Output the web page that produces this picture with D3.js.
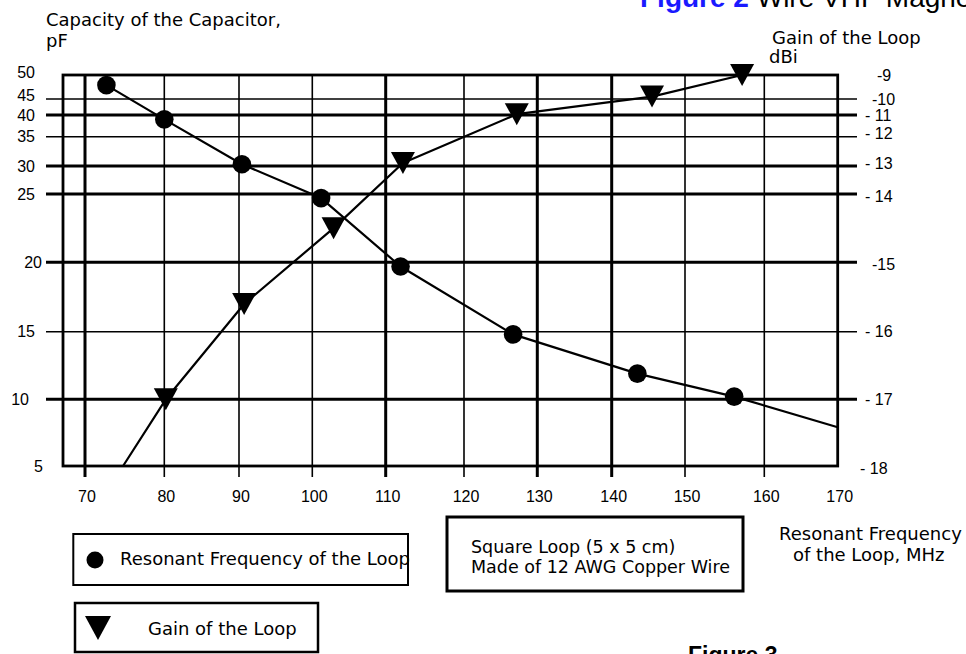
<!DOCTYPE html>
<html>
<head>
<meta charset="utf-8">
<script src="https://cdn.jsdelivr.net/npm/d3@7"></script>
<style>
  html, body { margin: 0; padding: 0; background: #fff; overflow: hidden; }
  svg { display: block; }
</style>
</head>
<body>
<svg id="chart" width="966" height="654"></svg>
<script>
// ---------------- DATA ----------------
const freqTicks = [70, 80, 90, 100, 110, 120, 130, 140, 150, 160, 170];
const capTicks = [5, 10, 15, 20, 25, 30, 35, 40, 45, 50];
const gainTicks = [-18, -17, -16, -15, -14, -13, -12, -11, -10, -9];
const gainTickLabels = ["- 18", "- 17", "- 16", "-15", "- 14", "- 13", "- 12", "- 11", "-10", "-9"];

// Resonant frequency of the loop (MHz) vs capacitance (pF)
const resFreq = [72.7, 80.0, 90.4, 101.2, 111.9, 126.7, 143.5, 156.2];
const resCap  = [47.9, 39.0, 30.3, 24.7, 19.7, 14.8, 11.9, 10.2];
// curve continues to the right edge
const resTailFreq = [170];
const resTailCap  = [7.9];

// Gain of the loop (dBi) vs frequency (MHz)
const gainFreq = [80.2, 90.7, 102.9, 112.2, 127.2, 145.5, 157.2];
const gainDbi  = [-17.0, -15.6, -14.5, -12.9, -10.95, -9.9, -9.0];
// curve starts at the bottom edge
const gainHeadFreq = [74.8];
const gainHeadDbi  = [-18];

// ---------------- LAYOUT ----------------
const svg = d3.select("#chart");
const plot = { left: 63, top: 75, right: 837.7, bottom: 466 };
// hand-drawn grid: uneven spacing, captured as scale stops
const xStops = [85, 164.3, 239, 312.3, 385.7, 464, 537.3, 611.7, 685, 764.3, 837.7];
const yStops = [466, 399.3, 331.7, 262.3, 194, 166, 136.7, 115, 99, 75];

const x = d3.scaleLinear().domain(freqTicks).range(xStops);
const yCap = d3.scaleLinear().domain(capTicks).range(yStops);
const yGain = d3.scaleLinear().domain(gainTicks).range(yStops);

const thickFreq = new Set([70, 110, 130, 140]);
const thickCap = new Set([10, 20, 25, 30, 40]);

const geneva = "'DejaVu Sans', Verdana, sans-serif";
const arial = "'Liberation Sans', Arial, sans-serif";

// ---------- grid ----------
const g = svg.append("g");
g.selectAll("line.hgrid")
  .data(capTicks.filter(d => d !== 5 && d !== 50))
  .join("line")
  .attr("x1", 46).attr("x2", 857)
  .attr("y1", d => yCap(d)).attr("y2", d => yCap(d))
  .attr("stroke", "#000")
  .attr("stroke-width", d => thickCap.has(d) ? 3 : 1.6);

g.selectAll("line.vgrid")
  .data(freqTicks.filter(d => d !== 170))
  .join("line")
  .attr("x1", d => x(d)).attr("x2", d => x(d))
  .attr("y1", plot.top).attr("y2", 477)
  .attr("stroke", "#000")
  .attr("stroke-width", d => thickFreq.has(d) ? 3 : 1.6);

// frame
g.append("rect")
  .attr("x", plot.left).attr("y", plot.top)
  .attr("width", plot.right - plot.left).attr("height", plot.bottom - plot.top)
  .attr("fill", "none").attr("stroke", "#000").attr("stroke-width", 2.8);

// ---------- tick labels ----------
const leftDx = { 5: 8, 10: -6, 20: 7 };
const leftDy = { 50: -3, 45: -4 };
svg.append("g").selectAll("text")
  .data(capTicks)
  .join("text")
  .attr("x", d => 35 + (leftDx[d] || 0))
  .attr("y", d => yCap(d) + (leftDy[d] || 0))
  .attr("dy", "0.36em")
  .attr("text-anchor", "end")
  .attr("font-family", arial).attr("font-size", 16)
  .text(d => d);

const rightDx = { "-9": 12, "-10": 7, "-15": 7, "- 18": -5 };
const rightDy = { "- 12": -3, "- 13": -3, "- 14": 2, "-15": 2, "- 18": 2 };
svg.append("g").selectAll("text")
  .data(gainTicks.map((v, i) => ({ v, label: gainTickLabels[i] })))
  .join("text")
  .attr("x", d => 865 + (rightDx[d.label] || 0))
  .attr("y", d => yGain(d.v) + (rightDy[d.label] || 0))
  .attr("dy", "0.36em")
  .attr("font-family", arial).attr("font-size", 16)
  .text(d => d.label);

svg.append("g").selectAll("text")
  .data(freqTicks)
  .join("text")
  .attr("x", d => x(d) + 2)
  .attr("y", 502)
  .attr("text-anchor", "middle")
  .attr("font-family", arial).attr("font-size", 16)
  .text(d => d);

// ---------- data lines ----------
const resPts = resFreq.map((f, i) => [f, resCap[i]])
  .concat(resTailFreq.map((f, i) => [f, resTailCap[i]]));
const gainPts = gainHeadFreq.map((f, i) => [f, gainHeadDbi[i]])
  .concat(gainFreq.map((f, i) => [f, gainDbi[i]]));

svg.append("path")
  .datum(resPts)
  .attr("fill", "none").attr("stroke", "#000").attr("stroke-width", 2.2)
  .attr("stroke-linejoin", "round")
  .attr("d", d3.line().x(d => x(d[0])).y(d => yCap(d[1])).curve(d3.curveLinear));

svg.append("path")
  .datum(gainPts)
  .attr("fill", "none").attr("stroke", "#000").attr("stroke-width", 2.2)
  .attr("stroke-linejoin", "round")
  .attr("d", d3.line().x(d => x(d[0])).y(d => yGain(d[1])).curve(d3.curveLinear));

// markers
svg.append("g").selectAll("circle")
  .data(resFreq.map((f, i) => [f, resCap[i]]))
  .join("circle")
  .attr("cx", d => x(d[0])).attr("cy", d => yCap(d[1]))
  .attr("r", 9.3).attr("fill", "#000");

function triPath(w, h) {
  return `M${-w / 2},${-h / 2}L${w / 2},${-h / 2}L0,${h / 2}Z`;
}
svg.append("g").selectAll("path")
  .data(gainFreq.map((f, i) => [f, gainDbi[i]]))
  .join("path")
  .attr("transform", d => `translate(${x(d[0])},${yGain(d[1])})`)
  .attr("d", triPath(24, 22))
  .attr("fill", "#000");

// ---------- axis titles ----------
const titleL = svg.append("text").attr("font-family", geneva).attr("font-size", 18);
titleL.append("tspan").attr("x", 46).attr("y", 26).text("Capacity of the Capacitor,");
titleL.append("tspan").attr("x", 46).attr("y", 47).text("pF");

const titleR = svg.append("text").attr("font-family", geneva).attr("font-size", 18);
titleR.append("tspan").attr("x", 772).attr("y", 44).text("Gain of the Loop");
titleR.append("tspan").attr("x", 769).attr("y", 63).text("dBi");

const titleX = svg.append("text").attr("font-family", geneva).attr("font-size", 18);
titleX.append("tspan").attr("x", 779).attr("y", 540).text("Resonant Frequency");
titleX.append("tspan").attr("x", 793).attr("y", 561).text("of the Loop, MHz");

// ---------- legends ----------
svg.append("rect")
  .attr("x", 73.3).attr("y", 534).attr("width", 408 - 73.3).attr("height", 585 - 534)
  .attr("fill", "#fff").attr("stroke", "#000").attr("stroke-width", 2);
svg.append("circle").attr("cx", 95).attr("cy", 560).attr("r", 8.5).attr("fill", "#000");
svg.append("text").attr("x", 120).attr("y", 565)
  .attr("font-family", geneva).attr("font-size", 18)
  .text("Resonant Frequency of the Loop");

svg.append("rect")
  .attr("x", 75).attr("y", 603).attr("width", 318 - 75).attr("height", 652 - 603)
  .attr("fill", "#fff").attr("stroke", "#000").attr("stroke-width", 2.5);
svg.append("path")
  .attr("transform", "translate(98,628)")
  .attr("d", triPath(26, 24)).attr("fill", "#000");
svg.append("text").attr("x", 148).attr("y", 635)
  .attr("font-family", geneva).attr("font-size", 18)
  .text("Gain of the Loop");

// info box
svg.append("rect")
  .attr("x", 447).attr("y", 517).attr("width", 743 - 447).attr("height", 591 - 517)
  .attr("fill", "#fff").attr("stroke", "#000").attr("stroke-width", 3);
const info = svg.append("text").attr("font-family", geneva).attr("font-size", 17.5);
info.append("tspan").attr("x", 471).attr("y", 553).text("Square Loop (5 x 5 cm)");
info.append("tspan").attr("x", 471).attr("y", 573).text("Made of 12 AWG Copper Wire");

// ---------- page texts (cropped, as in the reference) ----------
const head = svg.append("text").attr("x", 640).attr("y", 7)
  .attr("font-family", arial).attr("font-size", 28);
head.append("tspan").attr("fill", "#1a1aff").attr("font-weight", "bold").text("Figure 2");
head.append("tspan").attr("fill", "#000").text(" Wire VHF Magnetic Loop");

svg.append("text").attr("x", 688).attr("y", 663)
  .attr("font-family", arial).attr("font-size", 23).attr("font-weight", "bold")
  .text("Figure 3");
</script>
</body>
</html>
